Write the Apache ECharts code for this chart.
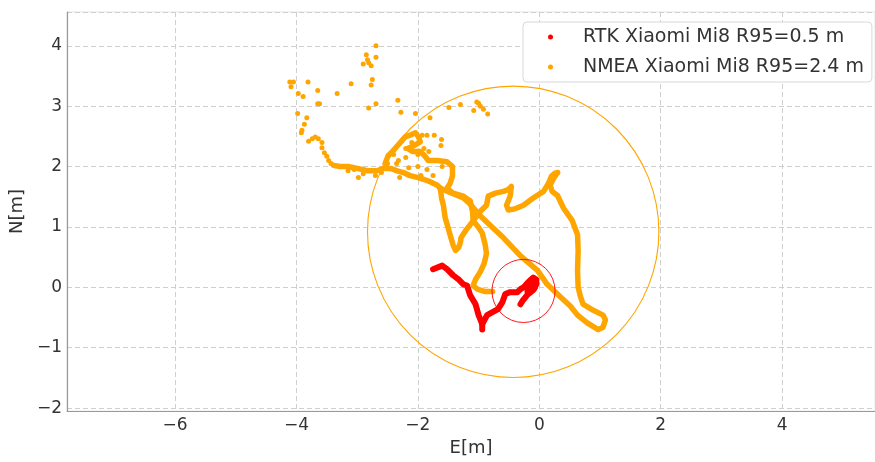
<!DOCTYPE html>
<html>
<head>
<meta charset="utf-8">
<script src="https://cdn.jsdelivr.net/npm/echarts@6/dist/echarts.min.js"></script>
<style>html,body{margin:0;padding:0;background:#fff;}#c{width:875px;height:462px;}</style>
</head>
<body>
<div id="c"></div>
<script>
// ---- data (E[m], N[m]) ----
const rtkName = 'RTK Xiaomi Mi8 R95=0.5 m';
const nmeaName = 'NMEA Xiaomi Mi8 R95=2.4 m';

const rtkTrail = [[-1.75,0.30],[-1.60,0.36],[-1.52,0.30],[-1.42,0.20],[-1.33,0.13],[-1.25,0.05],[-1.19,0.03],[-1.14,-0.13],[-1.05,-0.28],[-1.00,-0.46],[-0.94,-0.61],[-0.94,-0.70]];
const rtkBranch = [[-0.94,-0.61],[-0.86,-0.46],[-0.77,-0.41],[-0.68,-0.36],[-0.61,-0.25],[-0.56,-0.11],[-0.48,-0.08],[-0.36,-0.08],[-0.31,-0.03],[-0.26,0.00],[-0.18,0.08],[-0.10,0.16],[-0.05,0.13],[-0.07,0.00],[-0.15,-0.08],[-0.20,-0.13],[-0.28,-0.23],[-0.31,-0.28]];
const rtkBlob = [[-0.19,0.04],[-0.12,0.11],[-0.07,0.07],[-0.11,-0.02],[-0.17,-0.07]];

const nmeaTrailA = [[-3.39,2.02],[-3.28,2.00],[-3.15,2.00],[-3.00,1.97],[-2.83,1.93],[-2.67,1.93],[-2.57,1.97],[-2.45,1.97],[-2.34,1.93],[-2.24,1.90],[-2.13,1.85],[-2.01,1.82],[-1.91,1.79],[-1.80,1.75],[-1.68,1.69],[-1.63,1.64]];
const nmeaTrailB = [[-2.54,2.05],[-2.49,2.18],[-2.41,2.26],[-2.34,2.34],[-2.26,2.43],[-2.21,2.49],[-2.13,2.52],[-2.04,2.56],[-1.99,2.49],[-1.96,2.41],[-2.08,2.34],[-2.17,2.30],[-2.09,2.25],[-1.96,2.25],[-1.89,2.18],[-1.83,2.10],[-1.68,2.10],[-1.52,2.08],[-1.43,2.00],[-1.43,1.84],[-1.47,1.72],[-1.52,1.64],[-1.42,1.56],[-1.25,1.51],[-1.14,1.43]];
const nmeaTrailC = [[-1.14,1.43],[-1.10,1.26],[-1.09,1.10],[-1.02,1.02],[-0.94,0.90],[-0.89,0.70],[-0.87,0.56],[-0.91,0.39],[-0.97,0.26],[-1.05,0.13],[-1.09,0.03],[-1.02,-0.03],[-0.89,-0.07],[-0.77,-0.07]];
const nmeaTrailD = [[-1.63,1.64],[-1.61,1.48],[-1.58,1.36],[-1.55,1.15],[-1.50,0.98],[-1.47,0.87],[-1.42,0.70],[-1.38,0.61],[-1.33,0.66],[-1.30,0.74],[-1.29,0.82],[-1.22,0.93],[-1.09,1.10],[-0.97,1.26],[-0.87,1.36],[-0.84,1.51],[-0.72,1.56],[-0.59,1.59],[-0.51,1.62],[-0.46,1.67],[-0.43,1.64],[-0.48,1.51],[-0.54,1.36],[-0.51,1.28],[-0.40,1.30],[-0.26,1.36],[-0.10,1.48],[0.07,1.59],[0.15,1.72],[0.20,1.84],[0.26,1.89],[0.30,1.90]];
const nmeaTrailE = [[0.30,1.90],[0.23,1.80],[0.18,1.69],[0.21,1.59],[0.30,1.52],[0.40,1.31],[0.54,1.11],[0.63,0.87],[0.64,0.61],[0.63,0.28],[0.64,0.00],[0.68,-0.16],[0.72,-0.28],[0.89,-0.38],[1.05,-0.46],[1.09,-0.54],[1.05,-0.66],[0.97,-0.70],[0.79,-0.59],[0.63,-0.46],[0.51,-0.31],[0.35,-0.16],[0.13,0.05],[-0.03,0.28],[-0.31,0.52],[-0.59,0.82],[-0.81,1.03],[-0.97,1.18],[-1.14,1.38],[-1.25,1.48],[-1.47,1.57],[-1.63,1.64]];
const nmeaDots = [[-4.11,3.40],[-4.05,3.40],[-4.09,3.32],[-3.97,3.21],[-3.89,3.16],[-3.81,3.40],[-3.65,3.26],[-3.65,3.04],[-3.62,3.04],[-3.33,3.21],[-3.10,3.37],[-2.69,4.00],[-2.69,3.81],[-2.85,3.85],[-2.83,3.77],[-2.90,3.70],[-2.81,3.72],[-2.77,3.67],[-2.75,3.44],[-2.77,3.35],[-2.69,3.04],[-2.81,2.97],[-2.33,3.10],[-2.28,2.90],[-2.04,2.88],[-3.98,2.88],[-3.83,2.81],[-3.87,2.70],[-3.91,2.60],[-3.92,2.56],[-3.80,2.42],[-3.74,2.46],[-3.69,2.49],[-3.64,2.46],[-3.58,2.40],[-3.58,2.31],[-3.54,2.23],[-3.50,2.17],[-3.47,2.10],[-3.43,2.05],[-1.80,2.81],[-1.49,2.98],[-1.30,3.03],[-1.08,2.93],[-1.03,3.07],[-1.00,3.05],[-0.97,3.00],[-0.92,2.95],[-0.85,2.87],[-1.93,2.52],[-1.85,2.52],[-1.73,2.52],[-1.61,2.45],[-1.62,2.35],[-2.32,2.10],[-2.98,1.82],[-2.30,1.82],[-2.40,2.20],[-2.20,2.15],[-2.00,2.20],[-1.90,2.30],[-2.10,2.40],[-2.35,2.05],[-2.00,2.00],[-1.85,1.95],[-1.75,1.85],[-2.15,1.98],[-1.95,1.85],[-2.50,2.05],[-2.60,1.90],[-2.70,1.85],[-3.15,1.93],[-3.05,1.95],[-2.90,1.88],[-2.20,2.30],[-1.82,2.25],[-1.70,2.10],[-1.60,2.00]];

// R95 circles: [centerE, centerN, radius]
const rtkCircle = [[-0.26,-0.06,0.52]];
const nmeaCircle = [[-0.43,0.92,2.40]];

const RED = '#ff0000', ORANGE = '#ffa500';
const FONT = 'DejaVu Sans';
const minus = v => String(v).replace('-', '\u2212');

function trail(data, color, w, name) {
  return { type:'line', name: name || 'trail', data, symbol:'none', silent:true,
    lineStyle:{ color, width:w, cap:'round', join:'round', opacity:1 }, z:3, animation:false };
}
function circle(data, color, w) {
  return { type:'custom', data, encode:{x:0,y:1}, silent:true, z:4, animation:false,
    renderItem(params, api){
      const c = api.coord([api.value(0), api.value(1)]);
      const r = api.size([api.value(2), 0])[0];
      return { type:'circle', shape:{cx:c[0], cy:c[1], r}, style:{fill:'none', stroke:color, lineWidth:w} };
    } };
}

const chart = echarts.init(document.getElementById('c'), null, {renderer:'canvas'});
chart.setOption({
  backgroundColor:'#fff',
  animation:false,
  textStyle:{fontFamily:FONT},
  grid:{left:67, right:0, top:12, bottom:48, show:true, borderColor:'#e6e6e6', borderWidth:1},
  legend:{
    data:[rtkName, nmeaName], orient:'vertical', left:523, top:22,
    backgroundColor:'#fff', borderColor:'#d8d8d8', borderWidth:1, borderRadius:4,
    padding:[4,8,4,25], itemGap:8, itemWidth:5, itemHeight:5, icon:'circle',
    textStyle:{fontFamily:FONT, fontSize:19, color:'#333', padding:[0,0,0,25], lineHeight:22}
  },
  xAxis:{
    type:'value', min:-7.78, max:5.53, splitNumber:6,
    name:'E[m]', nameLocation:'middle', nameGap:25,
    nameTextStyle:{fontFamily:FONT, fontSize:18, color:'#333'},
    axisLine:{onZero:false, lineStyle:{color:'#999', width:1.2}},
    axisTick:{show:false},
    axisLabel:{fontFamily:FONT, fontSize:17, color:'#333', margin:6, showMinLabel:false, showMaxLabel:false, formatter:minus},
    splitLine:{show:true, lineStyle:{color:'#cfcfcf', type:[5,3], width:1}}
  },
  yAxis:{
    type:'value', min:-2.05, max:4.56, splitNumber:6,
    name:'N[m]', nameLocation:'middle', nameGap:39, nameRotate:90,
    nameTextStyle:{fontFamily:FONT, fontSize:18, color:'#333'},
    axisLine:{onZero:false, lineStyle:{color:'#999', width:1.2}},
    axisTick:{show:false},
    axisLabel:{fontFamily:FONT, fontSize:17, color:'#333', margin:5, showMinLabel:false, showMaxLabel:false, formatter:minus},
    splitLine:{show:true, lineStyle:{color:'#cfcfcf', type:[5,3], width:1}}
  },
  series:[
    circle(rtkCircle, RED, 0.9),
    trail(rtkTrail, RED, 6),
    trail(rtkBranch, RED, 6),
    trail(rtkBlob, RED, 9),
    {type:'scatter', name:rtkName, data:[rtkTrail[0]], symbolSize:5, itemStyle:{color:RED, opacity:1}, z:3},
    trail(nmeaTrailA, ORANGE, 5.5),
    trail(nmeaTrailB, ORANGE, 5.5),
    trail(nmeaTrailC, ORANGE, 5.5),
    trail(nmeaTrailD, ORANGE, 5.5),
    trail(nmeaTrailE, ORANGE, 5.5),
    {type:'scatter', name:nmeaName, data:nmeaDots, symbolSize:5, itemStyle:{color:ORANGE, opacity:1}, z:3, silent:true},
    circle(nmeaCircle, ORANGE, 1.1)
  ]
});
</script>
</body>
</html>
